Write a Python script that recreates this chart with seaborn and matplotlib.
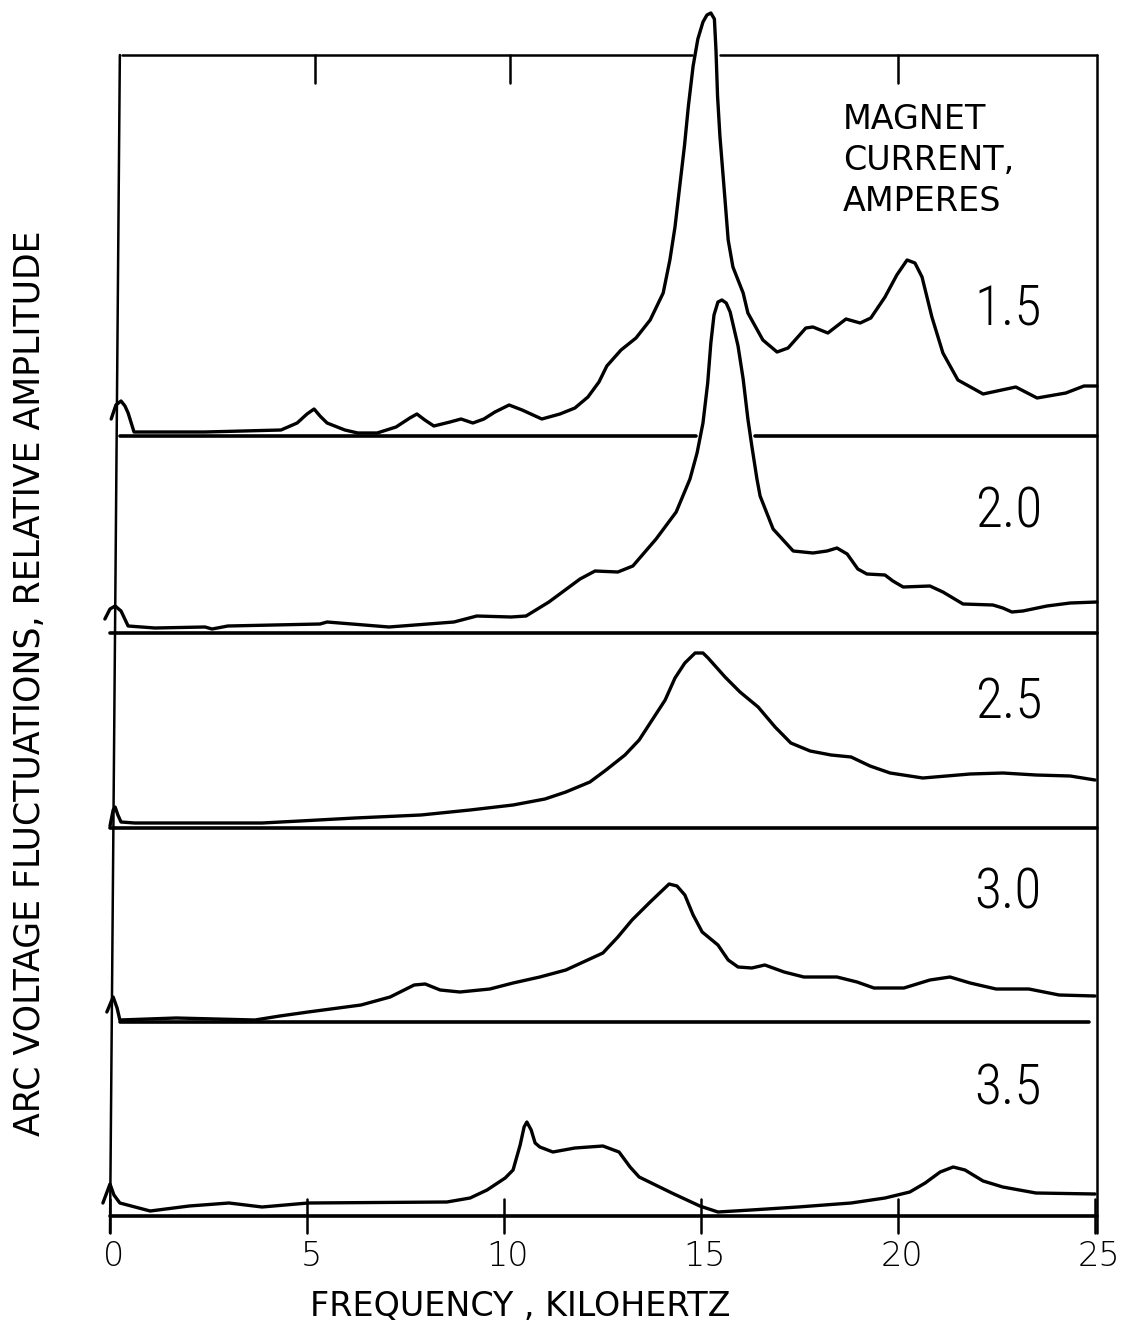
import numpy as np
import matplotlib
matplotlib.use("Agg")
import matplotlib.pyplot as plt
import seaborn as sns

# ---- spectra: frequency (kHz) and relative amplitude above each trace's baseline ----
currents = ["1.5", "2.0", "2.5", "3.0", "3.5"]

freq_15 = [0.03, 0.15, 0.28, 0.38, 0.46, 0.61, 1.27, 2.41, 4.34, 4.75, 5.00, 5.18, 5.33, 5.51,
           5.96, 6.29, 6.78, 7.26, 7.61, 7.79, 7.99, 8.22, 8.63, 8.91, 9.21, 9.49, 9.77, 10.13,
           10.46, 10.96, 11.42, 11.80, 12.13, 12.41, 12.61, 12.97, 13.35, 13.71, 14.04, 14.21,
           14.34, 14.47, 14.58, 14.68, 14.80, 14.92, 15.05, 15.15, 15.25, 15.34, 15.38,
           15.42, 15.48, 15.61, 15.69, 15.81, 16.07, 16.19, 16.57, 16.93, 17.21, 17.66, 17.84,
           18.22, 18.68, 19.04, 19.31, 19.67, 19.97, 20.23, 20.43, 20.61, 20.86, 21.14, 21.52,
           22.16, 22.99, 23.53, 24.26, 24.72, 25.05]
amp_15 = [17, 31, 35, 30, 23, 4, 4, 4, 6, 13, 22, 27, 20, 13,
          6, 3, 3, 9, 18, 22, 16, 10, 14, 17, 13, 17, 24, 31,
          26, 17, 22, 28, 39, 54, 70, 86, 98, 116, 143, 176,
          209, 253, 290, 330, 370, 397, 414, 421, 423, 417, 386,
          340, 300, 236, 196, 169, 143, 123, 96, 84, 88, 108, 109,
          103, 117, 113, 118, 139, 161, 176, 173, 159, 119, 83, 56,
          42, 49, 38, 43, 50, 50]

freq_20 = [-0.13, 0.00, 0.13, 0.28, 0.46, 1.14, 2.41, 2.59, 2.99, 5.33, 5.51, 7.08, 8.73, 9.31,
           10.18, 10.56, 11.14, 11.93, 12.31, 12.89, 13.27, 13.86, 14.37, 14.72, 14.90, 15.05,
           15.17, 15.25, 15.33, 15.43, 15.53, 15.64, 15.74, 15.94, 16.07, 16.19, 16.29, 16.42,
           16.50, 16.83, 17.34, 17.84, 18.20, 18.45, 18.71, 18.98, 19.21, 19.67, 19.87, 20.13,
           20.81, 21.14, 21.65, 22.41, 22.66, 22.89, 23.17, 23.78, 24.37, 25.05]
amp_20 = [14, 24, 27, 22, 7, 5, 6, 4, 7, 9, 11, 6, 11, 17,
          16, 17, 31, 54, 62, 61, 67, 94, 121, 154, 180, 210,
          250, 290, 318, 331, 333, 330, 321, 287, 254, 214, 187, 154,
          137, 104, 82, 80, 82, 85, 79, 64, 59, 58, 52, 46,
          47, 41, 29, 28, 25, 21, 22, 27, 30, 31]

freq_25 = [0.00, 0.08, 0.13, 0.20, 0.28, 0.63, 1.68, 3.86, 4.82, 6.22, 7.89, 9.14, 10.23, 11.04,
           11.57, 12.18, 12.59, 13.07, 13.43, 13.76, 14.09, 14.34, 14.59, 14.85, 15.05, 15.18,
           15.61, 15.99, 16.45, 16.88, 17.28, 17.77, 18.30, 18.81, 19.29, 19.80, 20.63, 21.83,
           22.66, 23.50, 24.37, 25.00]
amp_25 = [2, 18, 21, 13, 6, 5, 5, 5, 7, 10, 13, 18, 23, 29,
          36, 46, 58, 73, 88, 108, 128, 150, 165, 175, 175, 170,
          151, 136, 121, 101, 85, 77, 73, 71, 62, 55, 50, 54,
          55, 53, 52, 48]

freq_30 = [-0.08, 0.08, 0.18, 0.25, 1.68, 3.68, 4.31, 5.03, 6.37, 7.11, 7.72, 8.00, 8.38, 8.88,
           9.64, 10.23, 10.91, 11.57, 12.51, 12.89, 13.25, 13.71, 14.19, 14.39, 14.59, 14.80,
           15.03, 15.43, 15.69, 15.94, 16.29, 16.62, 17.11, 17.61, 18.07, 18.45, 18.96, 19.39,
           20.15, 20.81, 21.32, 21.83, 22.49, 23.32, 24.09, 25.00]
amp_30 = [10, 25, 14, 2, 4, 2, 6, 10, 17, 25, 37, 38, 32, 30,
          33, 39, 45, 52, 69, 85, 102, 120, 138, 136, 127, 107,
          90, 77, 62, 55, 54, 57, 50, 45, 45, 45, 40, 34,
          34, 42, 45, 39, 33, 33, 27, 26]

freq_35 = [-0.18, 0.00, 0.10, 0.25, 1.02, 2.01, 3.02, 3.86, 5.03, 8.55, 9.14, 9.57, 10.03, 10.23,
           10.41, 10.51, 10.58, 10.69, 10.79, 10.91, 11.24, 11.80, 12.51, 12.92, 13.20, 13.43,
           14.26, 14.97, 15.43, 16.27, 17.46, 18.81, 19.67, 20.30, 20.69, 21.07, 21.40, 21.70,
           22.16, 22.66, 23.50, 25.00]
amp_35 = [13, 32, 21, 13, 5, 10, 13, 9, 13, 14, 18, 26, 38, 46,
          71, 89, 94, 86, 73, 69, 64, 68, 70, 64, 49, 39,
          23, 10, 4, 6, 9, 13, 18, 24, 33, 44, 49, 46,
          35, 29, 23, 22]

x_ticks = [0, 5, 10, 15, 20, 25]
x_tick_labels = ["0", "5", "10", "15", "20", "25"]
top_ticks = [5.2, 10.15, 20.0]

# ---- layout (vertical offsets of the stacked traces) ----
offsets = [780, 583, 388, 194, 0]
label_y = [907, 704, 513, 323, 127]
frame_top = 1161
tick_len = 17

sns.set_theme(style="white")
plt.rcParams["font.family"] = ["DejaVu Sans"]

fig = plt.figure(figsize=(11.27, 13.28), dpi=100)
ax = fig.add_axes([0, 0, 1, 1])
ax.set_xlim(-110 / 39.4, 1017 / 39.4)
ax.set_ylim(-112, 1216)
ax.set_axis_off()

ink = "black"
curves = [(freq_15, amp_15), (freq_20, amp_20), (freq_25, amp_25),
          (freq_30, amp_30), (freq_35, amp_35)]

# stacked spectra
for (f, a), off in zip(curves, offsets):
    sns.lineplot(x=np.array(f), y=np.array(a) + off, ax=ax, color=ink,
                 lw=2.4, sort=False, estimator=None,
                 solid_joinstyle="round", solid_capstyle="round")

# baselines of each trace (the 1.5 A baseline is interrupted by the 2.0 A peak)
base_lw = 2.6
ax.plot([0.25, 14.88], [780, 780], color=ink, lw=base_lw)
ax.plot([16.38, 25.05], [780, 780], color=ink, lw=base_lw)
ax.plot([0.0, 25.05], [583, 583], color=ink, lw=base_lw)
ax.plot([0.0, 25.05], [388, 388], color=ink, lw=base_lw)
ax.plot([0.25, 24.85], [194, 194], color=ink, lw=base_lw)
ax.plot([0.0, 25.05], [0, 0], color=ink, lw=base_lw)

# outer frame: top edge broken by the tall 1.5 A peak
frame_lw = 1.8
ax.plot([0.3, 14.77], [frame_top, frame_top], color=ink, lw=frame_lw)
ax.plot([15.48, 25.05], [frame_top, frame_top], color=ink, lw=frame_lw)
ax.plot([0.25, 0.0], [frame_top, -tick_len], color=ink, lw=frame_lw)
ax.plot([25.05, 25.05], [frame_top, -tick_len], color=ink, lw=frame_lw)
for t in top_ticks:
    ax.plot([t, t], [frame_top, frame_top - 28], color=ink, lw=frame_lw)

# bottom frequency ticks and labels
for t, lab in zip(x_ticks, x_tick_labels):
    ax.plot([t, t], [tick_len, -tick_len], color=ink, lw=frame_lw)
    ax.text(t + 0.1, -40, lab, ha="center", va="center", fontsize=24,
            color=ink, fontweight="light")

ax.text(10.4, -91, "FREQUENCY , KILOHERTZ", ha="center", va="center",
        fontsize=24, color=ink)
ax.text(-2.03, 533, "ARC VOLTAGE FLUCTUATIONS, RELATIVE AMPLITUDE",
        rotation=90, ha="center", va="center", fontsize=25, color=ink)

ax.text(18.6, 1113, "MAGNET\nCURRENT,\nAMPERES", ha="left", va="top",
        fontsize=24, linespacing=1.3, color=ink)

for lab, y in zip(currents, label_y):
    ax.text(22.8, y, lab, ha="center", va="center", fontsize=40, color=ink,
            fontweight="light",
            family=["Roboto Condensed", "Liberation Sans Narrow", "DejaVu Sans"])

fig.savefig("out.png", dpi=100, facecolor="white")
